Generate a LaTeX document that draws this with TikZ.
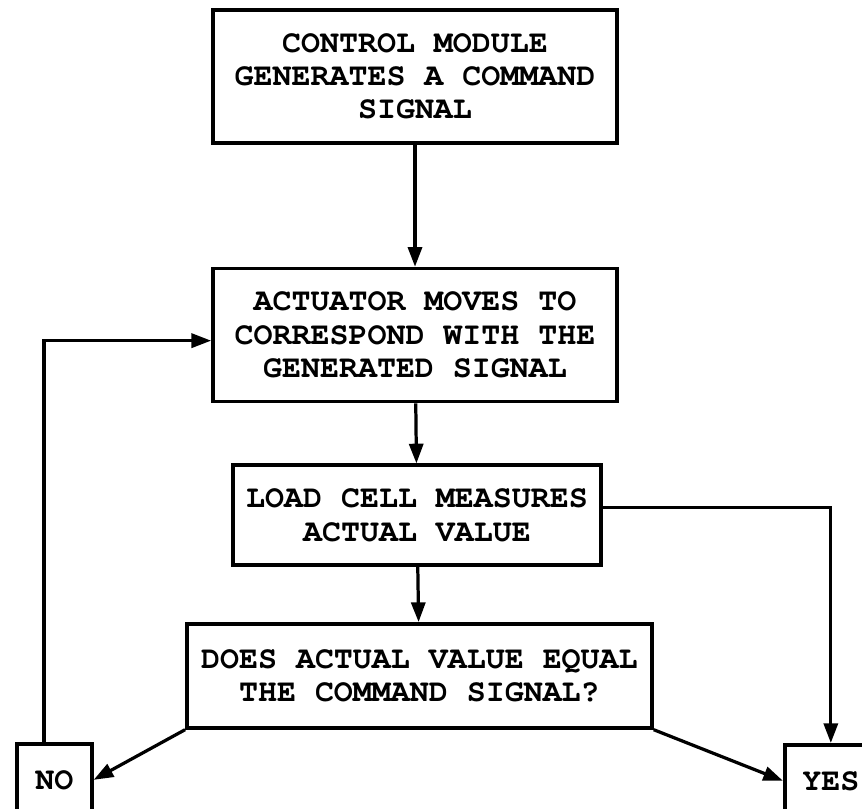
\documentclass[tikz,border=0pt]{standalone}
\usepackage{fontspec}
\newfontfamily\typer{texgyrecursor}[Extension=.otf, UprightFont=*-bold]
\usetikzlibrary{arrows.meta, positioning}

\begin{document}
\begin{tikzpicture}[
    block/.style={draw, rectangle, line width=2.6pt, align=center, font=\typer\fontsize{22.5}{23.7}\selectfont},
    answer/.style={block, minimum height=1.8cm, anchor=north west},
    >={Triangle[length=14pt, width=10pt]},
    line width=2.3pt
]
    \useasboundingbox (0,0) rectangle (21.55,-20.225);
    \clip (0,0) rectangle (21.55,-20.225);

    % Main chain
    \node[block, minimum width=10.1cm, minimum height=3.325cm] (ctrl) at (10.375,-1.91) {CONTROL MODULE\\GENERATES A COMMAND\\SIGNAL};
    \node[block, minimum width=10.1cm, minimum height=3.325cm, below=3.05cm of ctrl] (act) {ACTUATOR MOVES TO\\CORRESPOND WITH THE\\GENERATED SIGNAL};
    \node[block, minimum width=9.2cm, minimum height=2.5cm, below=1.5cm of act, xshift=0.05cm] (load) {LOAD CELL MEASURES\\ACTUAL VALUE};
    \node[block, minimum width=11.625cm, minimum height=2.6cm, below=1.375cm of load, xshift=0.06cm] (check) {DOES ACTUAL VALUE EQUAL\\THE COMMAND SIGNAL?};

    % Answers
    \node[answer, minimum width=1.875cm] (no) at (0.375,-18.55) {NO};
    \node[answer, minimum width=2.3cm] (yes) at (19.575,-18.575) {YES};

    % Connections
    \draw[->] (ctrl) -- (act);
    \draw[->] (act) -- (load);
    \draw[->] (load) -- (check);
    \draw[->] (check.south west) -- (no.east);
    \draw[->] (check.south east) -- (yes.west);
    \draw[->] ([yshift=0.2cm]load.east) -| (yes.north);

    % Loop back
    \draw[->] ([xshift=-0.26cm]no.north) |- ([yshift=-0.14cm]act.west);
\end{tikzpicture}
\end{document}
